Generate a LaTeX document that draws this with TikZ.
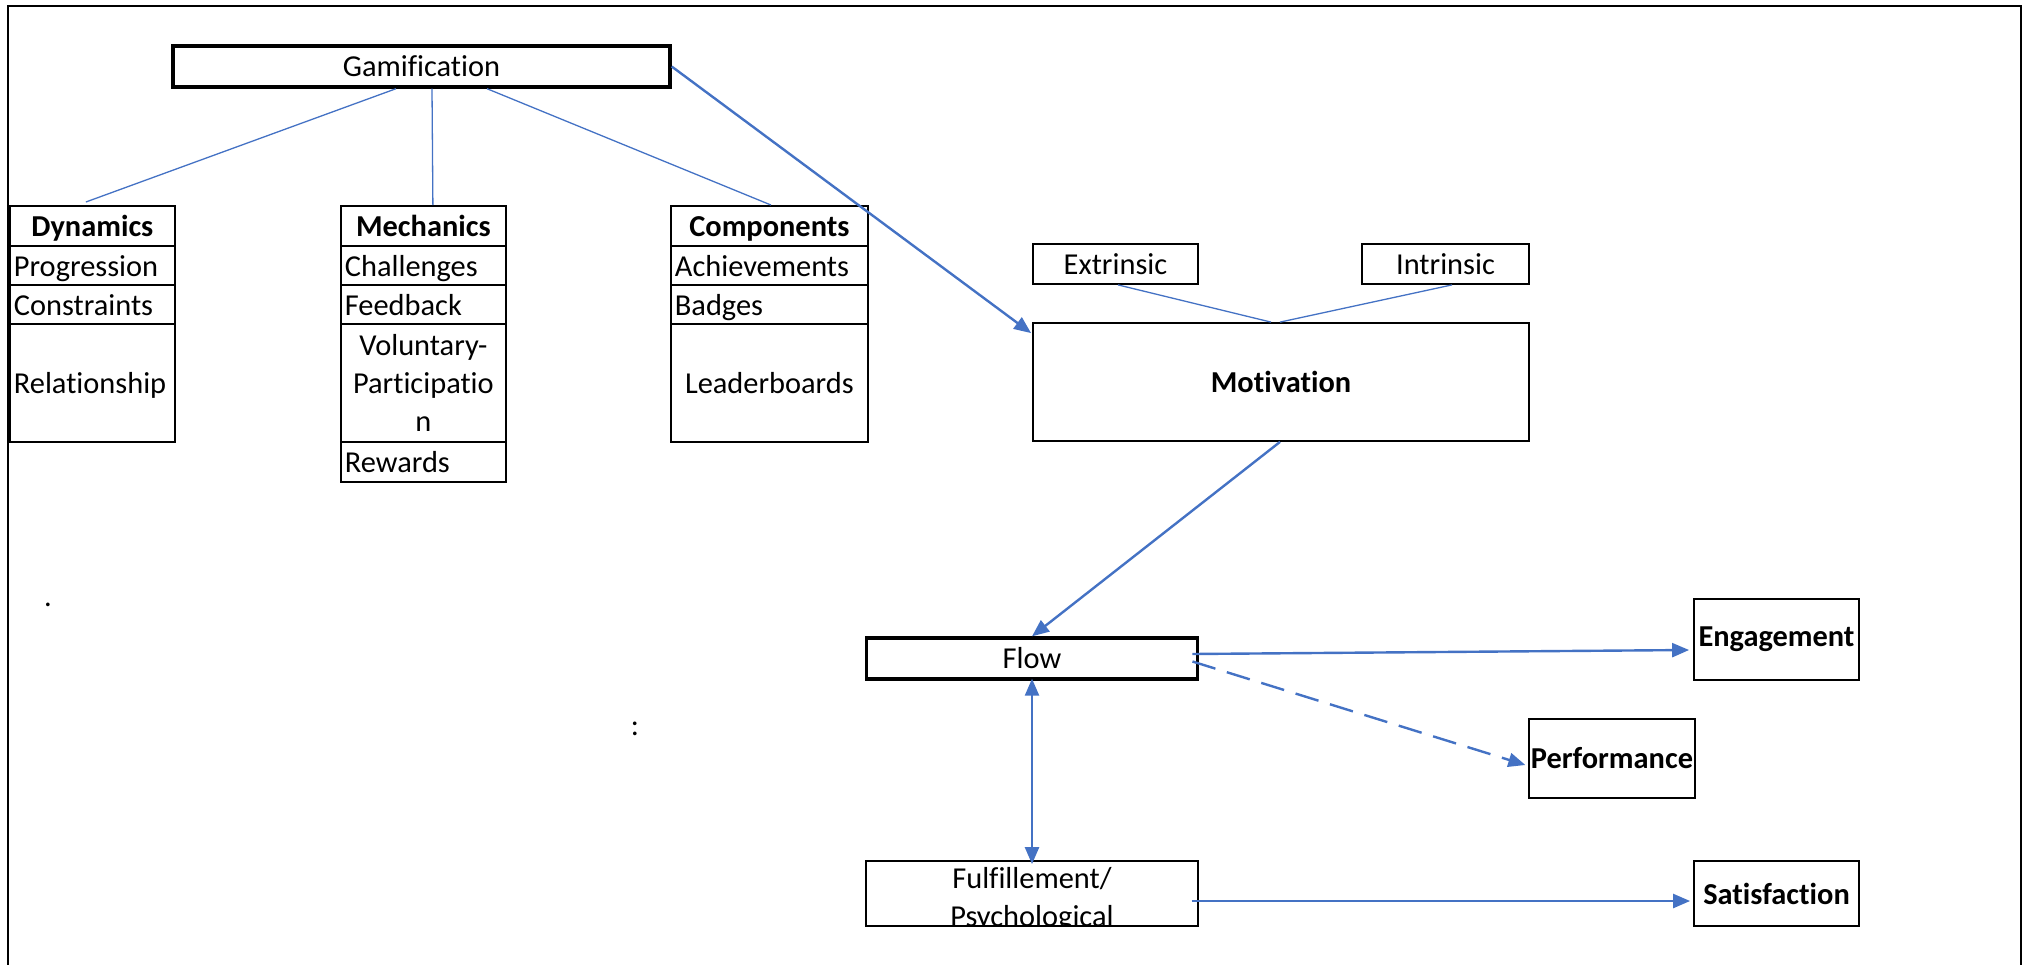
\documentclass[tikz,border=0pt]{standalone}
\usepackage{fontspec}
\setmainfont{Carlito}[Ligatures=NoCommon]
\usetikzlibrary{arrows.meta}
\definecolor{obl}{HTML}{4472C4}
\begin{document}
\begin{tikzpicture}[x=1pt,y=-1pt,
  every node/.style={font=\fontsize{30.4}{38}\selectfont},
  box/.style={draw=black, line width=1.8pt, rectangle, inner sep=0pt, align=center},
  thickbox/.style={box, line width=3.4pt},
  cellbase/.style={draw=black, line width=1.8pt, rectangle, anchor=north west, inner xsep=4pt, inner ysep=0pt},
  cellL/.style={cellbase, align=left, text height=22pt, text depth=0pt},
  cellC/.style={cellbase, align=center, text height=22pt, text depth=0pt},
  cellM/.style={cellbase, align=center},
  thinline/.style={draw=obl, line width=1.3pt},
  arr/.style={draw=obl, line width=2.4pt, -{Triangle[length=17pt,width=14pt]}},
  dotmark/.style={inner sep=0pt, anchor=base}
]
\useasboundingbox (0,0) rectangle (2024,964);
% frame
\draw[line width=1.8pt] (8,966) -- (8,6) -- (2021,6) -- (2021,966);

% Gamification
\node[thickbox, minimum width=497pt, minimum height=41pt] (gam) at (421.5,66.5) {Gamification};

% Dynamics column
\node[cellC, text width=157pt, minimum height=40pt] (dyn0) at (9,205) {\textbf{Dynamics}};
\node[cellL, text width=157pt, minimum height=39pt] (dyn1) at (9,245) {Progression};
\node[cellL, text width=157pt, minimum height=39pt] (dyn2) at (9,284) {Constraints};
\node[cellL, text width=157pt, minimum height=118pt] (dyn3) at (9,323) {Relationship};

% Mechanics column
\node[cellC, text width=157pt, minimum height=40pt] (mec0) at (340,205) {\textbf{Mechanics}};
\node[cellL, text width=157pt, minimum height=39pt] (mec1) at (340,245) {Challenges};
\node[cellL, text width=157pt, minimum height=39pt] (mec2) at (340,284) {Feedback};
\node[cellM, text width=157pt, minimum height=118pt] (mec3) at (340,323) {Voluntary-\\Participatio\\n};
\node[cellL, text width=157pt, minimum height=40pt] (mec4) at (340,441) {Rewards};

% Components column
\node[cellC, text width=189pt, minimum height=40pt] (com0) at (670,205) {\textbf{Components}};
\node[cellL, text width=189pt, minimum height=39pt] (com1) at (670,245) {Achievements};
\node[cellL, text width=189pt, minimum height=39pt] (com2) at (670,284) {Badges};
\node[cellC, text width=189pt, minimum height=118pt] (com3) at (670,323) {Leaderboards};

% Motivation cluster
\node[box, minimum width=165pt, minimum height=40pt] (ext) at (1115.5,264) {Extrinsic};
\node[box, minimum width=167pt, minimum height=40pt] (int) at (1445.5,264) {Intrinsic};
\node[box, minimum width=496pt, minimum height=118pt] (mot) at (1281,382) {\textbf{Motivation}};

% Flow and outcomes
\node[thickbox, minimum width=331.5pt, minimum height=41pt] (flow) at (1032,658.5) {Flow};
\node[box, minimum width=331.5pt, minimum height=65pt] (ful) at (1032,893.5) {};
\begin{scope}
  \clip (ful.south west) rectangle (ful.north east);
  \node[align=center, inner sep=0pt] (fultext) at (1032,900) {Fulfillement/\\Psychological};
\end{scope}
\node[box, minimum width=165pt, minimum height=81pt] (eng) at (1776.5,639.5) {\textbf{Engagement}};
\node[box, minimum width=165.5pt, minimum height=79pt] (perf) at (1612,758.5) {\textbf{Performance}};
\node[box, minimum width=165pt, minimum height=65pt] (sat) at (1776.5,893.5) {\textbf{Satisfaction}};

% stray marks
\node[dotmark] (dotA) at (48,606) {.};
\node[dotmark] (dotB) at (635,735) {:};

% hierarchy lines
\draw[thinline] ([xshift=-25.5pt]gam.south) -- ([xshift=-6.5pt,yshift=3pt]dyn0.north);
\draw[thinline] ([xshift=10.5pt]gam.south) -- ([xshift=9.5pt]mec0.north);
\draw[thinline] ([xshift=65.5pt]gam.south) -- ([xshift=1.5pt]com0.north);
\draw[thinline] ([xshift=2.5pt]ext.south) -- ([xshift=-10pt]mot.north);
\draw[thinline] ([xshift=6.5pt]int.south) -- ([xshift=-1pt]mot.north);

% arrows
\draw[arr] (gam.east) -- ([xshift=-1pt,yshift=-11pt]mot.north west);
\draw[arr] ([xshift=-1pt]mot.south) -- (flow.north);
\draw[arr] ([xshift=-7pt,yshift=4.5pt]flow.east) -- ([xshift=-4pt,yshift=-10.5pt]eng.west);
\draw[arr, dash pattern=on 24pt off 12pt] ([xshift=-7pt,yshift=-3pt]flow.east) -- ([xshift=-3pt,yshift=-6.5pt]perf.west);
\draw[draw=obl, line width=2.4pt, {Triangle[length=17pt,width=14pt]}-{Triangle[length=17pt,width=14pt]}] ([yshift=2pt]flow.south) -- ([yshift=-4pt]ful.north);
\draw[arr] ([xshift=-7pt,yshift=-7.5pt]ful.east) -- ([xshift=-3pt,yshift=-7.5pt]sat.west);
\end{tikzpicture}
\end{document}
